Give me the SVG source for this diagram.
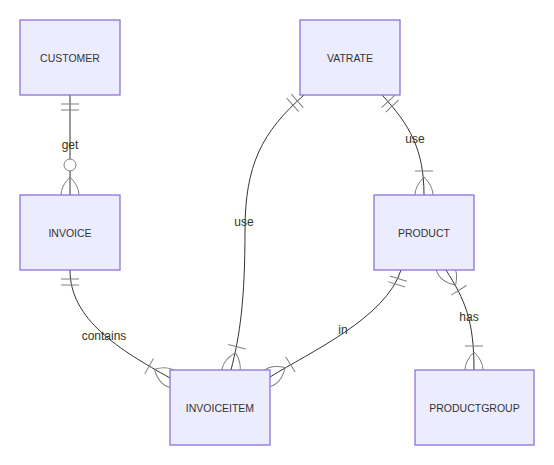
<svg xmlns="http://www.w3.org/2000/svg" width="554" height="465" viewBox="0 0 554 465">
<style>
.ent rect{fill:#ECECFF;stroke:#9370DB;stroke-width:1.3}
.ent text{font-family:"trebuchet ms","Liberation Sans",Arial,sans-serif;font-size:10.5px;fill:#333;text-anchor:middle;dominant-baseline:central}
.rel{fill:none;stroke:#333;stroke-width:1}
.mk{fill:none;stroke:#808080;stroke-width:1}
.lb rect{fill:#f9ffec;opacity:0.5}
.lb text{font-family:"trebuchet ms","Liberation Sans",Arial,sans-serif;font-size:12px;fill:#333;text-anchor:middle;dominant-baseline:central}
</style>
<defs>
<marker id="oneStart" markerUnits="userSpaceOnUse" refX="0" refY="9" markerWidth="18" markerHeight="18" orient="auto" overflow="visible">
<path class="mk" d="M9,0 L9,18 M15,0 L15,18"/>
</marker>
<marker id="manyStart" markerUnits="userSpaceOnUse" refX="18" refY="18" markerWidth="45" markerHeight="36" orient="auto" overflow="visible">
<path class="mk" d="M0,18 Q18,0 36,18 Q18,36 0,18 M42,9 L42,27"/>
</marker>
<marker id="manyEnd" markerUnits="userSpaceOnUse" refX="27" refY="18" markerWidth="45" markerHeight="36" orient="auto" overflow="visible">
<path class="mk" d="M3,9 L3,27 M9,18 Q27,0 45,18 Q27,36 9,18"/>
</marker>
<marker id="zeroManyEnd" markerUnits="userSpaceOnUse" refX="39" refY="18" markerWidth="57" markerHeight="36" orient="auto" overflow="visible">
<circle cx="9" cy="18" r="6" fill="#fff" stroke="#808080" stroke-width="1"/>
<path class="mk" d="M21,18 Q39,0 57,18 Q39,36 21,18"/>
</marker>
</defs>
<g id="connectors">
<g class="lb"><rect x="60" y="138" width="20" height="14"/><rect x="81" y="329" width="46" height="14"/><rect x="234" y="215" width="20" height="14"/><rect x="405" y="132" width="20" height="14"/><rect x="337" y="323" width="12" height="14"/><rect x="458" y="310" width="22" height="14"/></g>
<path class="rel" d="M70,95 L70,195" marker-start="url(#oneStart)" marker-end="url(#zeroManyEnd)"/>
<path class="rel" d="M70,270 C70,320 120,350 170,378" marker-start="url(#oneStart)" marker-end="url(#manyEnd)"/>
<path class="rel" d="M304,95 C262,132 245,165 245,230 C245,300 240,335 231,370" marker-start="url(#oneStart)" marker-end="url(#manyEnd)"/>
<path class="rel" d="M382,95 C410,125 424,150 424,195" marker-start="url(#oneStart)" marker-end="url(#manyEnd)"/>
<path class="rel" d="M401,270 C386,318 310,352 270,377" marker-start="url(#oneStart)" marker-end="url(#manyEnd)"/>
<path class="rel" d="M446,270 C465,300 474,320 474,370" marker-start="url(#manyStart)" marker-end="url(#manyEnd)"/>
<g class="lb"><text x="70" y="145">get</text><text x="104" y="336">contains</text><text x="244" y="222">use</text><text x="415" y="139">use</text><text x="343" y="330">in</text><text x="469" y="317">has</text></g>
</g>
<g id="CUSTOMER" class="ent"><rect x="20" y="20" width="100" height="75"/><text x="70" y="57.5">CUSTOMER</text></g>
<g id="VATRATE" class="ent"><rect x="300" y="20" width="100" height="75"/><text x="350" y="57.5">VATRATE</text></g>
<g id="INVOICE" class="ent"><rect x="20" y="195" width="100" height="75"/><text x="70" y="232.5">INVOICE</text></g>
<g id="PRODUCT" class="ent"><rect x="374" y="195" width="100" height="75"/><text x="424" y="232.5">PRODUCT</text></g>
<g id="INVOICEITEM" class="ent"><rect x="170" y="370" width="100" height="75"/><text x="220" y="407.5">INVOICEITEM</text></g>
<g id="PRODUCTGROUP" class="ent"><rect x="415" y="370" width="119" height="75"/><text x="474.5" y="407.5">PRODUCTGROUP</text></g>
</svg>
